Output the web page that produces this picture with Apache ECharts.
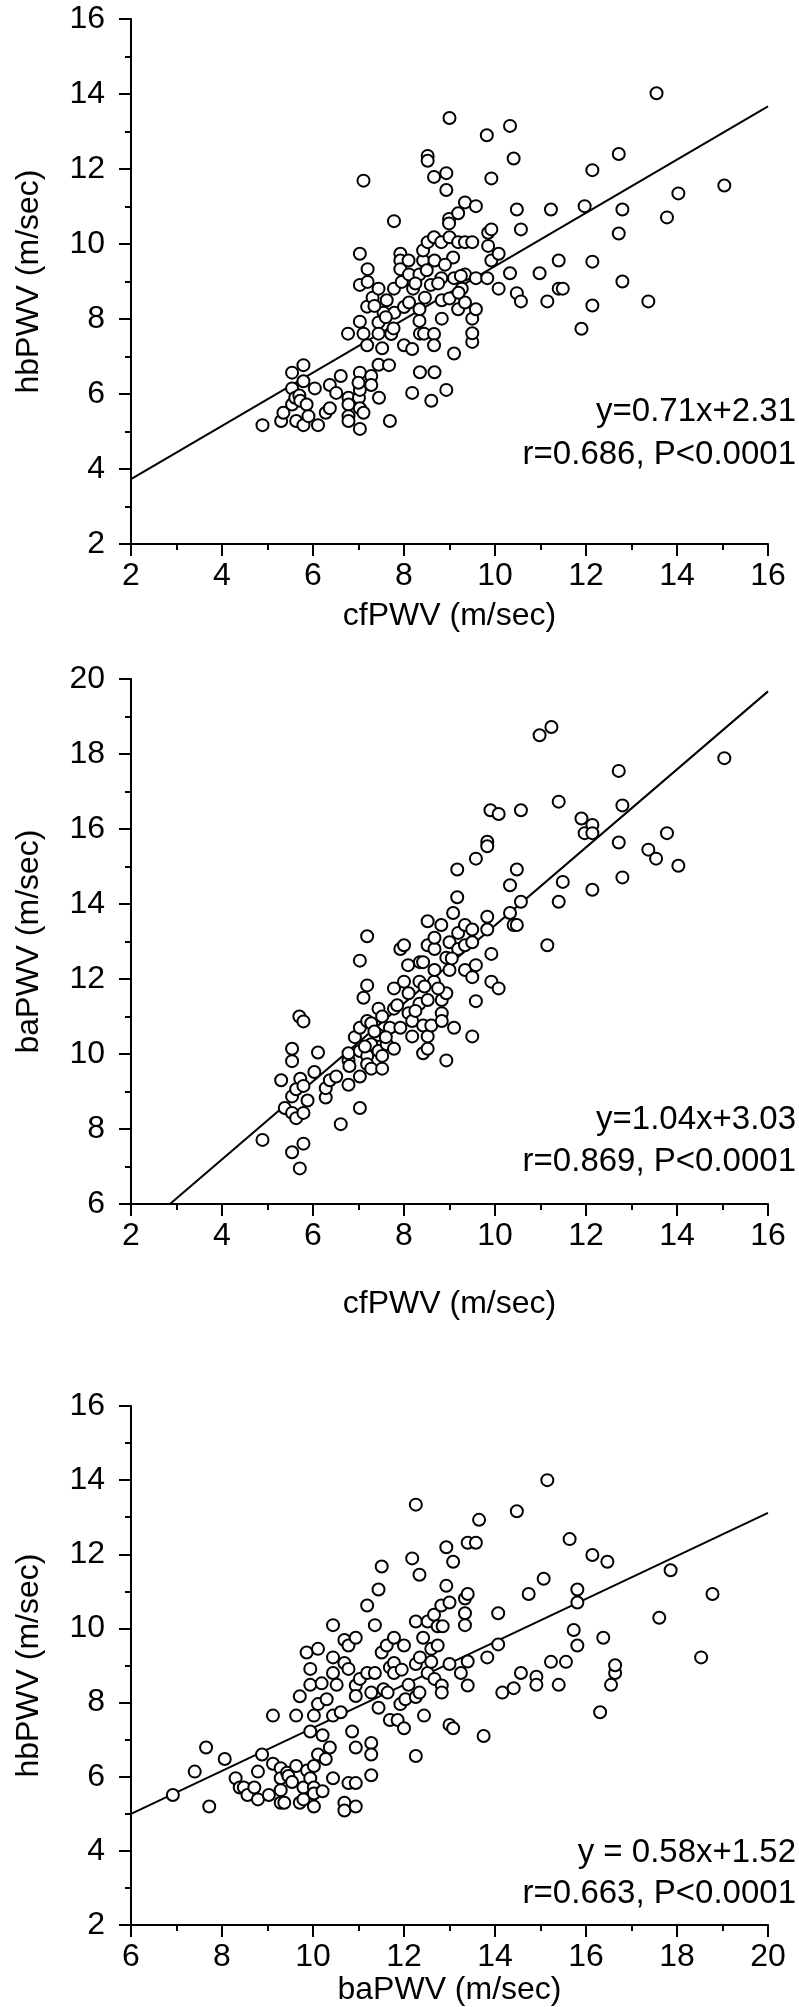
<!DOCTYPE html>
<html>
<head>
<meta charset="utf-8">
<script src="https://cdn.jsdelivr.net/npm/echarts@6/dist/echarts.min.js"></script>
<style>
html,body{margin:0;padding:0;background:#fff;}
#chart{width:799px;height:2007px;}
</style>
</head>
<body>
<div id="chart"></div>
<script>
// ---------- Panel 1: cfPWV vs hbPWV ----------
const p1x = [4.89,5.30,5.35,5.54,5.54,5.54,5.61,5.63,5.70,5.72,5.79,5.79,5.79,5.86,5.90,6.04,6.11,6.28,6.37,6.37,6.51,6.61,6.78,6.78,6.78,6.78,6.77,7.01,7.03,7.03,7.03,7.03,7.03,7.11,7.03,7.03,7.03,7.11,7.11,7.19,7.19,7.20,7.20,7.28,7.28,7.31,7.44,7.44,7.44,7.44,7.45,7.52,7.55,7.62,7.67,7.69,7.72,7.77,7.78,7.79,7.78,7.92,7.92,7.92,7.95,8.00,8.00,8.10,8.11,8.11,8.18,8.18,8.20,8.34,8.34,8.34,8.35,8.35,8.42,8.42,8.46,8.44,8.52,8.52,8.52,8.59,8.60,8.66,8.66,8.67,8.66,8.66,8.67,8.82,8.82,8.83,8.83,8.93,8.93,8.93,9.00,8.99,8.99,9.00,9.08,9.10,9.10,9.19,9.19,9.19,9.27,9.34,9.34,9.34,9.34,9.50,9.50,9.50,9.50,9.58,9.58,9.58,9.82,9.83,9.85,9.85,9.92,9.92,9.92,10.08,10.08,10.33,10.33,10.41,10.48,10.48,10.57,10.57,10.98,11.15,11.23,11.40,11.40,11.49,11.97,11.90,12.14,12.14,12.14,12.72,12.72,12.80,12.80,13.37,13.55,13.78,14.03,15.04,7.35,7.60,8.25,8.75,9.00,9.20,8.50,8.90,9.25,7.00];
const p1y = [5.17,5.28,5.50,6.57,6.15,5.72,5.90,5.28,5.96,5.82,6.77,6.34,5.17,5.72,5.41,6.15,5.17,5.50,5.62,6.24,6.03,6.48,5.90,5.72,5.41,5.28,7.61,5.90,6.57,6.24,6.11,5.62,5.07,5.50,7.93,8.91,9.74,11.69,7.61,7.30,8.33,8.99,9.33,6.48,6.24,8.57,8.81,7.91,7.61,6.78,5.90,7.22,8.17,8.50,6.77,5.28,7.60,7.75,8.81,8.17,10.61,9.74,9.56,9.33,8.99,7.30,8.32,9.56,9.19,8.44,7.20,6.03,8.81,9.19,8.26,7.95,7.61,6.58,9.56,9.83,8.57,7.61,12.35,12.22,10.05,8.91,5.82,11.79,10.18,9.56,7.60,7.30,6.58,10.05,9.09,8.50,8.01,11.89,11.44,6.11,13.36,10.67,10.55,10.18,9.64,9.09,7.08,10.82,8.26,10.05,8.81,11.11,9.19,10.05,8.44,10.05,8.01,7.39,7.62,8.26,9.09,11.01,12.90,9.09,10.30,9.95,10.39,11.75,9.56,9.74,8.81,13.15,9.22,12.28,10.92,8.69,10.39,8.47,9.22,8.47,10.92,9.56,8.81,8.81,11.01,7.74,11.97,9.53,8.36,12.40,10.28,10.92,9.00,8.47,14.02,10.71,11.35,11.56,8.35,8.05,8.95,8.95,8.55,8.70,9.30,9.45,9.15,6.30];
const fit1 = [[2, 3.73], [16, 13.67]];
const text1 = ['y=0.71x+2.31', 'r=0.686, P<0.0001'];

// ---------- Panel 2: cfPWV vs baPWV ----------
const p2x = [4.89,5.30,5.38,5.54,5.54,5.54,5.54,5.54,5.63,5.63,5.70,5.71,5.72,5.79,5.79,5.79,5.79,5.88,6.03,6.11,6.28,6.28,6.37,6.51,6.61,6.78,6.78,6.78,6.80,6.92,7.03,7.03,7.03,7.03,7.03,7.11,7.19,7.19,7.19,7.19,7.19,7.28,7.28,7.28,7.44,7.44,7.44,7.52,7.52,7.52,7.62,7.69,7.78,7.78,7.78,7.92,7.92,8.00,8.00,8.09,8.10,8.10,8.18,8.18,8.34,8.34,8.35,8.42,8.42,8.42,8.52,8.52,8.52,8.52,8.52,8.60,8.66,8.67,8.67,8.67,8.82,8.83,8.83,8.83,8.93,8.93,8.93,9.00,9.00,9.08,9.10,9.17,9.17,9.19,9.19,9.34,9.34,9.34,9.50,9.50,9.50,9.50,9.58,9.58,9.58,9.83,9.83,9.83,9.83,9.90,9.92,9.92,10.08,10.08,10.33,10.33,10.41,10.48,10.48,10.57,10.57,10.98,11.15,11.24,11.40,11.40,11.49,11.90,11.97,12.14,12.14,12.14,12.72,12.72,12.80,12.80,13.37,13.54,13.78,14.03,15.04,7.14,7.35,7.60,8.25,8.75,9.05,8.45,7.85];
const p2y = [7.71,9.30,8.56,10.14,9.81,8.87,8.43,7.38,8.29,9.06,11.00,6.95,9.34,10.87,9.15,8.43,7.61,8.76,9.52,10.04,8.84,9.09,9.30,9.40,8.13,9.18,9.83,10.02,9.68,10.45,9.40,8.56,12.49,10.70,10.08,11.50,13.14,11.83,10.88,9.95,9.73,10.82,10.26,9.61,11.21,10.51,10.08,11.00,9.61,9.95,10.26,10.70,11.75,11.21,10.14,12.80,10.70,12.90,11.93,12.37,11.62,11.09,10.88,10.47,11.93,11.34,12.45,12.45,10.76,10.02,12.90,13.54,11.44,10.47,10.14,10.76,11.93,12.24,12.80,13.10,13.44,11.44,11.09,10.88,11.62,9.83,12.57,12.24,12.98,13.76,10.70,14.92,14.18,13.23,12.80,13.44,12.90,12.24,13.32,12.98,12.05,10.47,15.21,12.37,11.41,15.66,15.54,13.66,13.32,16.50,12.67,11.93,16.40,11.75,14.50,13.76,13.44,14.92,13.44,16.50,14.06,18.50,12.90,18.72,16.73,14.06,14.59,16.28,15.89,16.11,15.89,14.38,17.55,15.64,16.63,14.71,15.45,15.21,15.89,15.02,17.89,10.20,10.60,10.45,11.15,11.75,12.55,11.80,11.30];
const fit2 = [[2.856, 6], [16, 19.67]];
const text2 = ['y=1.04x+3.03', 'r=0.869, P<0.0001'];

// ---------- Panel 3: baPWV vs hbPWV ----------
const p3x = [6.92,7.40,7.65,7.72,8.06,8.30,8.39,8.48,8.56,8.71,8.79,8.79,8.88,9.03,9.12,9.12,9.29,9.29,9.29,9.29,9.37,9.43,9.46,9.54,9.63,9.63,9.71,9.71,9.79,9.79,9.86,9.87,9.94,9.94,9.94,9.94,10.02,10.02,10.02,10.02,10.02,10.11,10.11,10.11,10.19,10.21,10.21,10.28,10.30,10.37,10.44,10.44,10.44,10.44,10.44,10.52,10.61,10.69,10.69,10.69,10.69,10.78,10.78,10.78,10.86,10.94,10.94,10.94,10.94,10.94,10.94,11.03,11.19,11.19,11.28,11.28,11.28,11.28,11.36,11.36,11.44,11.44,11.51,11.51,11.55,11.62,11.64,11.69,11.69,11.78,11.78,11.78,11.86,11.92,11.95,12.00,12.00,12.03,12.10,12.18,12.26,12.26,12.26,12.26,12.26,12.34,12.34,12.35,12.42,12.44,12.52,12.52,12.60,12.60,12.66,12.67,12.74,12.74,12.82,12.83,12.83,12.85,12.93,12.93,13.00,13.00,13.00,13.08,13.08,13.25,13.34,13.34,13.34,13.40,13.40,13.40,13.40,13.58,13.65,13.75,13.83,14.07,14.07,14.16,14.41,14.48,14.57,14.74,14.91,14.91,15.07,15.15,15.23,15.40,15.56,15.64,15.73,15.81,15.81,15.81,16.14,16.31,16.38,16.47,16.55,16.64,16.64,17.61,17.86,18.53,18.78];
const p3y = [5.51,6.14,6.79,5.20,6.48,5.96,5.71,5.71,5.51,5.71,6.14,5.39,6.60,5.51,7.65,6.35,6.23,5.96,5.64,5.30,5.30,6.11,6.02,5.86,7.65,6.29,8.17,5.30,5.71,5.39,9.35,6.17,8.48,8.91,7.22,5.96,7.65,6.29,5.71,5.55,5.20,9.45,7.96,6.60,8.52,7.12,5.61,6.48,8.09,6.79,10.09,9.22,8.80,7.65,5.96,8.48,7.74,9.69,9.07,5.30,5.09,8.91,9.54,5.83,7.22,9.75,8.46,8.18,6.79,5.83,5.20,8.64,10.62,8.80,8.27,6.91,6.60,6.04,8.80,10.09,11.05,7.86,11.67,9.35,8.36,9.54,8.27,7.53,8.95,9.75,9.07,8.80,7.53,7.96,8.89,9.54,7.31,8.09,8.48,11.89,13.34,10.19,9.04,8.15,6.56,11.45,8.27,9.22,9.75,7.65,10.19,8.80,9.45,9.10,10.37,8.64,9.54,10.06,10.62,8.46,8.27,10.06,12.19,11.15,10.70,9.04,7.40,7.31,11.80,8.80,10.81,10.41,10.09,12.31,10.93,9.11,8.46,12.31,12.93,7.10,9.22,10.41,9.57,8.27,8.39,13.16,8.80,10.93,8.70,8.48,11.34,14.00,9.10,8.48,9.10,12.41,9.96,11.05,10.70,9.54,11.98,7.74,9.75,11.80,8.48,8.80,9.01,10.29,11.57,9.22,10.93];
const fit3 = [[6, 5.0], [20, 13.12]];
const text3 = ['y = 0.58x+1.52', 'r=0.663, P<0.0001'];

// axis ranges and titles
const xRanges = [[2, 16], [2, 16], [6, 20]];
const yRanges = [[2, 16], [6, 20], [2, 16]];
const xTitles = ['cfPWV (m/sec)', 'cfPWV (m/sec)', 'baPWV (m/sec)'];
const yTitles = ['hbPWV (m/sec)', 'baPWV (m/sec)', 'hbPWV (m/sec)'];

const FONT = 'Liberation Sans, Arial, sans-serif';
const tops = [19, 679, 1406];
const PH = 525;
const xNameGaps = [56, 84, 44];

function zip(a, b) { return a.map((v, i) => [v, b[i]]); }
const scatterData = [zip(p1x, p1y), zip(p2x, p2y), zip(p3x, p3y)];
const fits = [fit1, fit2, fit3];
const texts = [text1, text2, text3];

const grids = [], xAxes = [], yAxes = [], series = [], graphics = [];
for (let i = 0; i < 3; i++) {
  grids.push({ left: 131, width: 637, top: tops[i], height: PH, containLabel: false });
  const common = {
    gridIndex: i, type: 'value', interval: 2,
    axisLine: { show: true, onZero: false, lineStyle: { color: '#000', width: 2 } },
    axisTick: { show: true, inside: false, length: 12, lineStyle: { color: '#000', width: 2 } },
    minorTick: { show: true, splitNumber: 2, length: 6, lineStyle: { color: '#000', width: 2 } },
    splitLine: { show: false },
    nameLocation: 'middle',
    nameTextStyle: { fontFamily: FONT, fontSize: 32, color: '#000' }
  };
  xAxes.push(Object.assign({}, common, {
    min: xRanges[i][0], max: xRanges[i][1], name: xTitles[i], nameGap: xNameGaps[i],
    axisLabel: { fontFamily: FONT, fontSize: 32, color: '#000', margin: 16 }
  }));
  yAxes.push(Object.assign({}, common, {
    min: yRanges[i][0], max: yRanges[i][1], name: yTitles[i], nameGap: 86,
    axisLabel: { fontFamily: FONT, fontSize: 32, color: '#000', margin: 26 }
  }));
  series.push({
    type: 'scatter', xAxisIndex: i, yAxisIndex: i, data: scatterData[i],
    symbol: 'circle', symbolSize: 12, silent: true,
    itemStyle: { color: '#fff', borderColor: '#000', borderWidth: 2, opacity: 1 },
    z: 3
  });
  series.push({
    type: 'line', xAxisIndex: i, yAxisIndex: i, data: fits[i],
    symbol: 'none', silent: true, lineStyle: { color: '#000', width: 2 }, z: 2
  });
}
const textY = [[413, 456], [1121, 1163], [1854, 1895]];
for (let i = 0; i < 3; i++) {
  for (let j = 0; j < 2; j++) {
    graphics.push({
      type: 'text', right: 3, top: textY[i][j] - 18,
      style: { text: texts[i][j], font: '33px ' + FONT, fill: '#000' }
    });
  }
}

const chart = echarts.init(document.getElementById('chart'), null, { renderer: 'canvas' });
chart.setOption({
  animation: false,
  backgroundColor: '#fff',
  grid: grids, xAxis: xAxes, yAxis: yAxes, series: series, graphic: graphics
});
</script>
</body>
</html>
